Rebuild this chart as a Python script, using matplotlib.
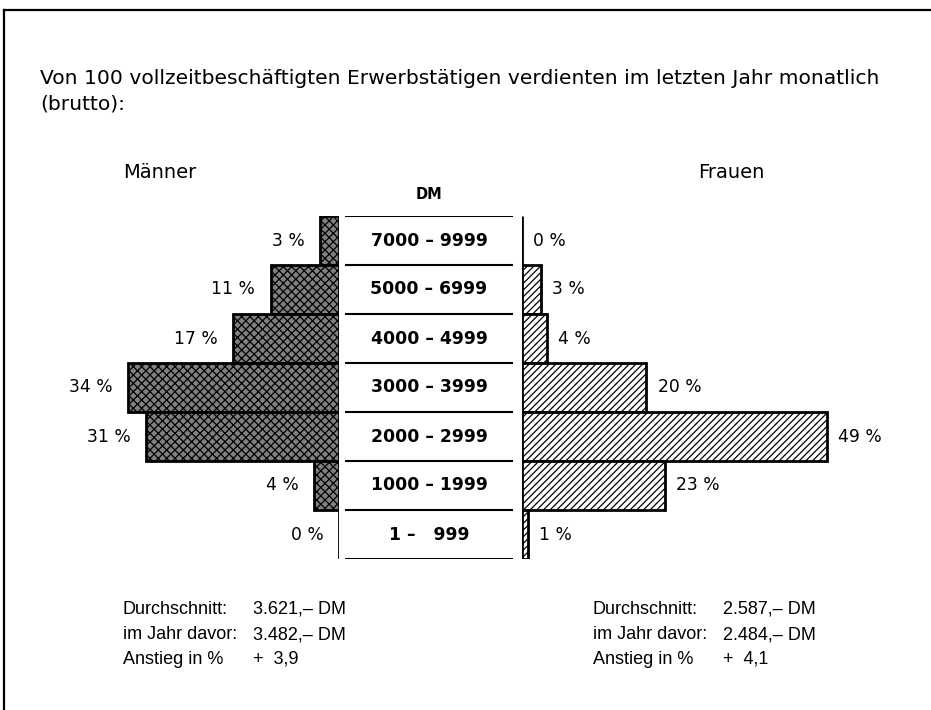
import matplotlib
matplotlib.use("Agg")
import matplotlib.pyplot as plt
from matplotlib.lines import Line2D
import numpy as np

plt.rcParams['font.family'] = ['DejaVu Sans']
plt.rcParams['hatch.linewidth'] = 0.9

# Daten
klassen = ["7000 – 9999", "5000 – 6999", "4000 – 4999", "3000 – 3999",
           "2000 – 2999", "1000 – 1999", "1 –   999"]
maenner = [3, 11, 17, 34, 31, 4, 0]
frauen = [0, 3, 4, 20, 49, 23, 1]

stat_labels = ["Durchschnitt:", "im Jahr davor:", "Anstieg in %"]
stat_maenner = ["3.621,– DM", "3.482,– DM", "+  3,9"]
stat_frauen = ["2.587,– DM", "2.484,– DM", "+  4,1"]

W, H = 931, 710
fig = plt.figure(figsize=(W / 100, H / 100), dpi=100)

def fx(px):
    return px / W

def fy(py):
    return 1 - py / H

# Rahmen oben / links
fig.add_artist(Line2D([fx(4), fx(931)], [fy(10), fy(10)], color='black', lw=1.6))
fig.add_artist(Line2D([fx(4), fx(4)], [fy(10), fy(710)], color='black', lw=1.6))

# Achsen: 6.22 px pro Prozent
scale = 6.22
top, bot = 216, 559
y0, h = fy(bot), (bot - top) / H
ax_m = fig.add_axes([fx(339 - 40 * scale), y0, fx(40 * scale), h])
ax_f = fig.add_axes([fx(522), y0, fx(55 * scale), h])
ax_c = fig.add_axes([fx(345), y0, fx(513 - 345), h])

y = np.arange(len(klassen))
ax_m.barh(y, maenner, height=1.0, color='#808080', edgecolor='black',
          linewidth=2, hatch='xxxx')
ax_f.barh(y, frauen, height=1.0, color='white', edgecolor='black',
          linewidth=2, hatch='/////')

ax_m.set_xlim(40, 0)
ax_f.set_xlim(0, 55)
for ax in (ax_m, ax_f, ax_c):
    ax.set_ylim(len(klassen) - 0.5, -0.5)
    ax.axis('off')

for yi, v in zip(y, maenner):
    ax_m.annotate(f"{v} %", (v, yi), xytext=(-11, 0), textcoords='offset points',
                  ha='right', va='center', fontsize=12.3)
for yi, v in zip(y, frauen):
    ax_f.annotate(f"{v} %", (v, yi), xytext=(8, 0), textcoords='offset points',
                  ha='left', va='center', fontsize=12.3)

# Mittelspalte
ax_c.set_xlim(0, 1)
ax_c.hlines(np.arange(len(klassen) + 1) - 0.5, 0, 1, color='black', lw=1.5)
for yi, k in zip(y, klassen):
    ax_c.text(0.5, yi, k, ha='center', va='center', fontsize=12.4,
              fontweight='bold')
ax_c.annotate("DM", (0.5, -0.5), xytext=(0, 10), textcoords='offset points',
              ha='center', va='bottom', fontsize=10.5, fontweight='bold')

# Texte
fig.text(fx(40), fy(84), "Von 100 vollzeitbeschäftigten Erwerbstätigen verdienten im letzten Jahr monatlich",
         fontsize=14.6, va='baseline')
fig.text(fx(40), fy(109), "(brutto):", fontsize=14.6, va='baseline')
fig.text(fx(123), fy(178), "Männer", fontsize=14, va='baseline')
fig.text(fx(698), fy(178), "Frauen", fontsize=14, va='baseline')

for i, (lab, vm, vf) in enumerate(zip(stat_labels, stat_maenner, stat_frauen)):
    yy = fy(614 + i * 25)
    kw = dict(fontsize=13, va='baseline', family='Liberation Sans')
    fig.text(fx(123), yy, lab, **kw)
    fig.text(fx(253), yy, vm, **kw)
    fig.text(fx(593), yy, lab, **kw)
    fig.text(fx(723), yy, vf, **kw)

fig.savefig("out.png", dpi=100)
